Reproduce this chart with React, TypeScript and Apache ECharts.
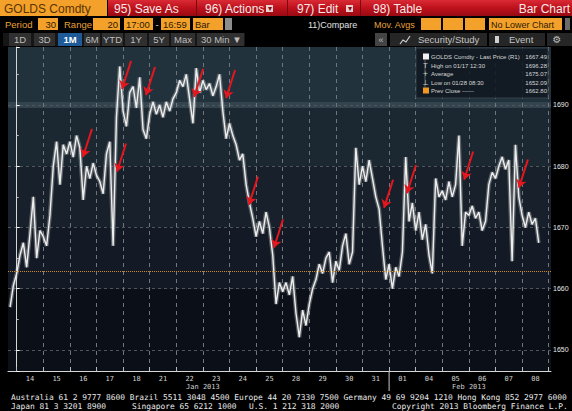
import React, { useEffect, useRef } from 'react';
import * as echarts from 'echarts';

// ---------- data ----------
const dayLabels = ['14', '15', '16', '17', '18', '21', '22', '23', '24', '25', '28', '29', '30', '31', '01', '04', '05', '06', '07', '08'];
const months = [
  { name: 'Jan 2013', from: 0, to: 14 },
  { name: 'Feb 2013', from: 14, to: 20 },
];
// 30-min closes sampled every 1/8 of a session (session 17:00-16:59)
const preOpen = [1657.0, 1660.5];
const jan14 = [1662.5, 1665.5, 1667.5, 1663.5, 1669.0, 1675.0, 1665.0, 1669.5];
const jan15 = [1668.5, 1667.0, 1672.0, 1680.0, 1684.0, 1677.0, 1683.5, 1682.0];
const jan16 = [1684.0, 1681.5, 1685.0, 1683.0, 1674.5, 1680.0, 1678.0, 1680.5];
const jan17 = [1678.5, 1677.5, 1675.5, 1682.0, 1684.0, 1667.0, 1688.0, 1696.28];
const jan18 = [1689.0, 1686.5, 1692.0, 1693.0, 1689.5, 1694.5, 1686.0, 1684.5];
const jan21 = [1688.5, 1690.5, 1688.5, 1690.0, 1688.0, 1690.5, 1689.0, 1691.0];
const jan22 = [1692.0, 1694.0, 1693.0, 1695.0, 1691.0, 1687.0, 1696.0, 1692.0];
const jan23 = [1694.0, 1692.5, 1693.5, 1691.5, 1693.0, 1695.0, 1689.0, 1684.5];
const jan24 = [1687.0, 1685.0, 1683.5, 1681.0, 1682.0, 1677.0, 1674.0, 1671.5];
const jan25 = [1668.5, 1671.0, 1669.0, 1672.5, 1670.0, 1665.5, 1657.5, 1661.0];
const jan28 = [1659.5, 1661.0, 1659.0, 1662.0, 1656.0, 1652.09, 1656.5, 1654.0];
const jan29 = [1657.5, 1660.0, 1661.5, 1664.0, 1662.5, 1665.0, 1666.0, 1661.0];
const jan30 = [1664.5, 1663.0, 1667.0, 1669.0, 1664.0, 1666.0, 1683.0, 1677.0];
const jan31 = [1680.0, 1677.5, 1681.0, 1678.0, 1675.0, 1673.0, 1667.0, 1661.5];
const feb01 = [1664.0, 1660.0, 1663.5, 1662.0, 1666.0, 1681.5, 1671.0, 1674.0];
const feb04 = [1669.5, 1672.5, 1668.0, 1670.5, 1665.5, 1662.5, 1678.0, 1675.0];
const feb05 = [1676.0, 1674.5, 1677.5, 1675.0, 1677.0, 1685.0, 1667.0, 1672.5];
const feb06 = [1672.0, 1673.5, 1671.5, 1672.5, 1669.5, 1671.0, 1677.0, 1679.0];
const feb07 = [1678.0, 1680.0, 1681.5, 1679.5, 1681.0, 1664.5, 1683.5, 1675.0];
const feb08 = [1672.0, 1670.0, 1672.5, 1670.5, 1671.5, 1667.49];
const dailyPrices = [jan14, jan15, jan16, jan17, jan18, jan21, jan22, jan23, jan24, jan25, jan28, jan29, jan30, jan31, feb01, feb04, feb05, feb06, feb07, feb08];

const lastPrice = 1667.49;
const highPrice = 1696.28;
const avgPrice = 1675.07;
const lowPrice = 1652.09;
const prevClose = 1662.8;

// red annotation arrows: tip position [session index, price]
const arrowTips = [
  [2.49, 1681.5], [3.77, 1679.1], [3.96, 1692.6], [4.86, 1691.6], [6.67, 1691.3], [7.87, 1691.1],
  [8.73, 1673.7], [9.67, 1666.7], [13.81, 1673.2], [14.67, 1675.6], [16.82, 1677.8], [18.88, 1676.5],
];

// ---------- layout ----------
const PLOT_L = 8, PLOT_R = 551, PLOT_T = 47, PLOT_B = 371;
const DAY0_X = 16.7, DAY_W = 26.6;
const W = 572, H = 411;
const xMin = (PLOT_L - DAY0_X) / DAY_W;
const xMax = (PLOT_R - DAY0_X) / DAY_W;
const yMin = 1646.57, yMax = 1699.46;
const SPD = 8;
const FONT = 'Liberation Sans';
const MONO = 'DejaVu Sans Mono';

const points: number[][] = [];
preOpen.forEach((p, i) => points.push([(i - preOpen.length) / SPD, p]));
dailyPrices.forEach((arr, d) => arr.forEach((p, i) => points.push([d + i / SPD, p])));

const bands = [
  { top: yMax, bottom: 1690.5, color: '#22323c' },
  { top: 1690.5, bottom: 1689.5, color: '#34444e' },
  { top: 1689.5, bottom: 1680, color: '#1b2731' },
  { top: 1680, bottom: 1670, color: '#18212b' },
  { top: 1670, bottom: 1660, color: '#131a25' },
  { top: 1660, bottom: yMin, color: '#0b0f18' },
];
const off = (v: number) => Math.min(1, Math.max(0, (yMax - v) / (yMax - yMin)));
const bgStops: any[] = [];
bands.forEach((b) => {
  bgStops.push({ offset: off(b.top), color: b.color });
  bgStops.push({ offset: off(b.bottom), color: b.color });
});

// ---------- graphic helpers ----------
const rect = (x: number, y: number, w: number, h: number, fill: any, extra: any = {}) => ({
  type: 'rect', z: 100, silent: true, shape: { x, y, width: w, height: h }, style: { fill, ...extra },
});
const text = (x: number, y: number, t: string, o: any = {}) => ({
  type: 'text', z: 101, silent: true, x, y,
  style: {
    text: t, fill: o.fill || '#ffffff', fontSize: o.size || 10, fontFamily: o.family || FONT,
    fontWeight: o.weight || 'normal', align: o.align || 'left', verticalAlign: 'middle',
  },
});

const ORANGE = '#f3a12a';
const AMBER = '#e9a23b';
const DARK = '#2e1a00';

const graphics: any[] = [];
// Row 1
graphics.push(rect(0, 0, 107, 16, ORANGE));
graphics.push(text(4, 8.5, 'GOLDS Comdty', { size: 12, fill: '#5a3300' }));
graphics.push(rect(108, 0, 464, 16, new echarts.graphic.LinearGradient(0, 0, 0, 1, [
  { offset: 0, color: '#d92a35' }, { offset: 0.5, color: '#bd111c' }, { offset: 1, color: '#980a13' },
])));
[196, 287, 360].forEach((x) => graphics.push(rect(x, 0, 1, 16, '#7c0810')));
graphics.push(text(114, 8.5, '95) Save As', { size: 12, fill: '#f6e8e8' }));
graphics.push(text(205, 8.5, '96) Actions', { size: 12, fill: '#f6e8e8' }));
graphics.push(rect(266, 5, 7, 7, '#e8d0d0'));
graphics.push(text(269.5, 8.5, '▾', { size: 8, fill: '#8a0b14', align: 'center' }));
graphics.push(text(297, 8.5, '97) Edit', { size: 12, fill: '#f6e8e8' }));
graphics.push(rect(346, 5, 7, 7, '#e8d0d0'));
graphics.push(text(349.5, 8.5, '▾', { size: 8, fill: '#8a0b14', align: 'center' }));
graphics.push(text(373, 8.5, '98) Table', { size: 12, fill: '#f6e8e8' }));
graphics.push(text(570, 8.5, 'Bar Chart', { size: 12, fill: '#f6e8e8', align: 'right' }));

// Row 2
const R2 = 24.5;
graphics.push(text(5, R2, 'Period', { size: 9.5, fill: AMBER }));
graphics.push(rect(38, 18, 20, 12, ORANGE));
graphics.push(text(56, R2, '30', { size: 9.5, fill: DARK, align: 'right' }));
graphics.push(text(64, R2, 'Range', { size: 9.5, fill: AMBER }));
graphics.push(rect(93, 18, 27, 12, ORANGE));
graphics.push(text(118, R2, '20', { size: 9.5, fill: DARK, align: 'right' }));
graphics.push(rect(124, 18, 29, 12, ORANGE));
graphics.push(text(126, R2, '17:00', { size: 9.5, fill: DARK }));
graphics.push(text(157, R2, '-', { size: 9.5, fill: '#ddd', align: 'center' }));
graphics.push(rect(161, 18, 29, 12, ORANGE));
graphics.push(text(163, R2, '16:59', { size: 9.5, fill: DARK }));
graphics.push(rect(193, 18, 30, 12, ORANGE));
graphics.push(text(195, R2, 'Bar', { size: 9.5, fill: DARK }));
graphics.push(rect(225, 18, 7, 12, '#8c8c8c'));
graphics.push(text(308, R2, '11)Compare', { size: 9, fill: '#e2e2e2' }));
graphics.push(text(374, R2, 'Mov. Avgs', { size: 9, fill: AMBER }));
[421, 443, 465].forEach((x) => graphics.push(rect(x, 18, 20, 12, ORANGE)));
graphics.push(rect(489, 18, 73, 12, ORANGE));
graphics.push(text(491, R2, 'No Lower Chart', { size: 9, fill: DARK }));
graphics.push(rect(565, 18, 5, 12, '#6a6a6a'));

// Row 3
const R3 = 39.5;
const tabs: [string, number, number][] = [
  ['1D', 9, 31], ['3D', 34, 55], ['1M', 58, 82], ['6M', 84, 100], ['YTD', 102, 123],
  ['1Y', 125, 147], ['5Y', 149, 169], ['Max', 171, 195], ['30 Min ▼', 197, 244],
];
graphics.push(rect(3, 33, 242, 13, '#161616'));
tabs.forEach(([t, a, b]) => {
  const sel = t === '1M';
  graphics.push(rect(a, 33, b - a, 13, sel ? '#1f5a98' : '#303030'));
  graphics.push(text(t.startsWith('30') ? a + 4 : (a + b) / 2, R3, t, {
    size: 9.5, fill: sel ? '#ffffff' : '#bdbdbd', align: t.startsWith('30') ? 'left' : 'center', weight: sel ? 'bold' : 'normal',
  }));
});
graphics.push(rect(375, 33, 12, 13, '#444'));
graphics.push(text(381, R3, '«', { size: 9, fill: '#bbb', align: 'center' }));
graphics.push(rect(390, 33, 182, 13, '#262626'));
graphics.push(rect(487, 33, 2, 13, '#000'));
graphics.push(rect(545, 33, 2, 13, '#000'));
graphics.push({
  type: 'polyline', z: 101, silent: true,
  shape: { points: [[400, 44], [403, 40], [406, 42], [410, 36]] },
  style: { stroke: '#cfcfcf', lineWidth: 1.2, fill: 'none' },
});
graphics.push(text(418, R3, 'Security/Study', { size: 9.5, fill: '#c4c4c4' }));
graphics.push(rect(495, 36, 4, 7, '#d0d0d0'));
graphics.push(text(509, R3, 'Event', { size: 9.5, fill: '#c4c4c4' }));
graphics.push(text(557, R3, '⚙', { size: 10, fill: '#bdbdbd', align: 'center', family: 'DejaVu Sans' }));

// Legend box
graphics.push(rect(416, 48, 132, 50, 'rgba(16,24,32,0.88)', { stroke: '#34414b', lineWidth: 1 }));
const legendRows = [
  { icon: 'white', label: 'GOLDS Comdty - Last Price (R1)', value: lastPrice },
  { icon: 'T', label: 'High on 01/17 12:30', value: highPrice },
  { icon: '+', label: 'Average', value: avgPrice },
  { icon: '⊥', label: 'Low on 01/28 08:30', value: lowPrice },
  { icon: 'orange', label: 'Prev Close ------', value: prevClose },
];
graphics.push({
  type: 'line', z: 101, silent: true, shape: { x1: 425, y1: 60, x2: 425, y2: 88 },
  style: { stroke: '#6a737a', lineWidth: 0.8 },
});
legendRows.forEach((r, i) => {
  const y = 57 + i * 8.5;
  if (r.icon === 'white' || r.icon === 'orange') {
    graphics.push(rect(423, y - 3.5, 6, 6, r.icon === 'white' ? '#f2f2f2' : '#f39a1e'));
  } else {
    graphics.push(text(425.5, y, r.icon, { size: 7, fill: '#cfcfcf', align: 'center', family: 'DejaVu Sans' }));
  }
  graphics.push(text(431, y, r.label, { size: 6, fill: '#d6d6d6' }));
  graphics.push(text(547, y, r.value.toFixed(2), { size: 6, fill: '#d6d6d6', align: 'right' }));
});

// Month labels & separator
months.forEach((m) => {
  const cx = DAY0_X + DAY_W * (m.from + m.to) / 2;
  graphics.push(text(cx, 386.5, m.name, { size: 7, fill: '#cfcfcf', align: 'center', family: MONO }));
});
const sepX = DAY0_X + DAY_W * months[1].from;
graphics.push({
  type: 'line', z: 101, silent: true, shape: { x1: sepX, y1: PLOT_B, x2: sepX, y2: 391 },
  style: { stroke: '#c8c8c8', lineWidth: 1 },
});

// Footer
const FOOT = '#ececec';
graphics.push(text(11, 397.5, 'Australia 61 2 9777 8600 Brazil 5511 3048 4500 Europe 44 20 7330 7500 Germany 49 69 9204 1210 Hong Kong 852 2977 6000', { size: 7.9, fill: FOOT, family: MONO }));
graphics.push(text(11, 406.5, 'Japan 81 3 3201 8900', { size: 7.9, fill: FOOT, family: MONO }));
graphics.push(text(132, 406.5, 'Singapore 65 6212 1000', { size: 7.9, fill: FOOT, family: MONO }));
graphics.push(text(249, 406.5, 'U.S. 1 212 318 2000', { size: 7.9, fill: FOOT, family: MONO }));
graphics.push(text(392, 406.5, 'Copyright 2013 Bloomberg Finance L.P.', { size: 7.9, fill: FOOT, family: MONO }));

const option: any = {
  animation: false,
  backgroundColor: '#000000',
  grid: [
    {
      left: PLOT_L, right: W - PLOT_R, top: PLOT_T, bottom: H - PLOT_B,
      show: true, borderWidth: 0, containLabel: false, outerBoundsMode: 'none',
      backgroundColor: new echarts.graphic.LinearGradient(0, 0, 0, 1, bgStops),
    },
    {
      left: DAY0_X, right: W - (DAY0_X + DAY_W * dayLabels.length), top: PLOT_T, bottom: H - PLOT_B,
      show: false, containLabel: false, outerBoundsMode: 'none',
    },
  ],
  xAxis: [
    {
      type: 'value', gridIndex: 0, min: xMin, max: xMax,
      axisLine: { show: true, lineStyle: { color: '#d6d6d6', width: 1 } },
      axisTick: { show: false }, axisLabel: { show: false }, splitLine: { show: false },
    },
    {
      type: 'category', gridIndex: 1, data: dayLabels, boundaryGap: true,
      axisLine: { show: false },
      axisTick: { show: true, inside: true, length: 4, interval: 0, lineStyle: { color: '#bdbdbd' } },
      splitLine: { show: true, interval: 0, lineStyle: { color: '#70767c', type: [4, 4], width: 1 } },
      axisLabel: { interval: 0, color: '#d2d2d2', fontSize: 7, margin: 4, fontFamily: MONO },
    },
  ],
  yAxis: [
    {
      type: 'value', gridIndex: 0, position: 'right', min: yMin, max: yMax, scale: true,
      axisLine: { show: true, lineStyle: { color: '#d6d6d6', width: 1 } },
      axisTick: { show: true, length: 3, lineStyle: { color: '#ffffff' } },
      minorTick: { show: true, splitNumber: 2, length: 2, lineStyle: { color: '#bbbbbb' } },
      axisLabel: {
        showMinLabel: false, showMaxLabel: false, color: '#e8e8e8', fontSize: 7, margin: 2, fontFamily: FONT,
        formatter: (v: number) => String(Math.round(v)),
      },
      splitLine: { show: true, showMinLine: false, showMaxLine: false, lineStyle: { color: '#4e555b', type: [3, 3], width: 1 } },
    },
    { type: 'value', gridIndex: 1, show: false, min: 0, max: 1 },
  ],
  series: [
    {
      type: 'line', name: 'glow', xAxisIndex: 0, yAxisIndex: 0, data: points,
      symbol: 'none', silent: true, z: 3,
      lineStyle: { color: 'rgba(225,225,225,0.33)', width: 4 },
      markLine: {
        silent: true, symbolSize: 8, label: { show: false },
        lineStyle: { color: '#e5161d', width: 2, type: 'solid' },
        data: arrowTips.map(([d, p]) => [
          { coord: [d + 0.34, p + 4.6], symbol: 'none' },
          { coord: [d, p], symbol: 'arrow' },
        ]),
      },
    },
    {
      type: 'line', name: 'GOLDS Comdty', xAxisIndex: 0, yAxisIndex: 0, data: points,
      symbol: 'none', z: 4,
      lineStyle: { color: '#eeeeee', width: 1.4 },
      markLine: {
        silent: true, symbol: 'none', label: { show: false },
        data: [
          { yAxis: prevClose, lineStyle: { color: '#d18a1c', type: 'dotted', width: 1 } },
          {
            yAxis: lastPrice, lineStyle: { opacity: 0 },
            label: {
              show: true, position: 'end', distance: -1, formatter: lastPrice.toFixed(2),
              backgroundColor: '#f2f2f2', color: '#000', fontSize: 5.4, padding: [1, 1], borderRadius: 2, fontFamily: FONT,
            },
          },
        ],
      },
    },
  ],
  graphic: graphics,
};

export default function App() {
  const ref = useRef<HTMLDivElement>(null);
  useEffect(() => {
    document.body.style.margin = '0';
    document.body.style.background = '#000';
    const chart = echarts.init(ref.current!, null, { renderer: 'svg' });
    chart.setOption(option);
    return () => chart.dispose();
  }, []);
  return <div ref={ref} style={{ width: W, height: H, background: '#000' }} />;
}
